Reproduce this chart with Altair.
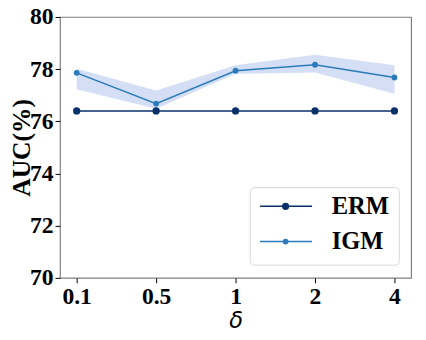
import altair as alt
import pandas as pd

deltas = ["0.1", "0.5", "1", "2", "4"]
erm = [76.40, 76.40, 76.40, 76.40, 76.40]
igm = [77.86, 76.68, 77.94, 78.17, 77.68]
igm_lo = [77.23, 76.48, 77.82, 77.87, 77.06]
igm_hi = [78.02, 77.18, 78.15, 78.55, 78.15]
series = ["ERM", "IGM"]
colors = ["#08306b", "#2b7bba"]
dot_sizes = [55, 35]

rows = []
for d, v in zip(deltas, erm):
    rows.append({"delta": d, "auc": v, "method": "ERM"})
for d, v in zip(deltas, igm):
    rows.append({"delta": d, "auc": v, "method": "IGM"})
df = pd.DataFrame(rows)
band = pd.DataFrame({"delta": deltas, "lo": igm_lo, "hi": igm_hi})

FONT = "Liberation Serif"
xenc = alt.X("delta:O", sort=deltas,
             scale=alt.Scale(type="point", padding=0.21),
             axis=alt.Axis(title="δ", labelAngle=0, titleFont="DejaVu Sans",
                           titleFontStyle="italic", titleFontWeight="normal",
                           titleFontSize=23, titlePadding=2))
yscale = alt.Scale(domain=[70, 80], nice=False, zero=False)
yaxis = alt.Axis(title="AUC(%)", values=[70, 72, 74, 76, 78, 80], titleFontSize=26,
                 titlePadding=-5)

cscale = alt.Scale(domain=series, range=colors)
sscale = alt.Scale(domain=series, range=dot_sizes)

area = alt.Chart(band).mark_area(color="#c6d3f2", opacity=0.75).encode(
    x=xenc,
    y=alt.Y("lo:Q", scale=yscale, axis=yaxis),
    y2="hi:Q",
)
line = alt.Chart(df).mark_line(strokeWidth=1.5).encode(
    x=xenc,
    y=alt.Y("auc:Q", scale=yscale, axis=yaxis),
    color=alt.Color("method:N", scale=cscale, legend=None),
)
pts = alt.Chart(df).mark_circle(opacity=1).encode(
    x=xenc,
    y=alt.Y("auc:Q", scale=yscale),
    color=alt.Color("method:N", scale=cscale, legend=None),
    size=alt.Size("method:N", scale=sscale, legend=None),
)

# manual legend (pixel positions inside plot area)
leg = pd.DataFrame({"method": series, "ly": [193, 229]})
leg_box = alt.Chart(pd.DataFrame({"a": [0]})).mark_rect(
    fill="white", stroke="#d8d8d8", strokeWidth=1, cornerRadius=4).encode(
    x=alt.value(194), x2=alt.value(346), y=alt.value(174), y2=alt.value(253))
leg_line = alt.Chart(leg).mark_rule(strokeWidth=1.5).encode(
    x=alt.value(204), x2=alt.value(257),
    y=alt.Y("ly:Q", scale=None),
    color=alt.Color("method:N", scale=cscale, legend=None),
)
leg_dot = alt.Chart(leg).mark_circle(opacity=1).encode(
    x=alt.value(230),
    y=alt.Y("ly:Q", scale=None),
    color=alt.Color("method:N", scale=cscale, legend=None),
    size=alt.Size("method:N", scale=sscale, legend=None),
)
leg_text = alt.Chart(leg).mark_text(
    align="left", baseline="middle", font=FONT, fontWeight="bold",
    fontSize=25, color="black").encode(
    x=alt.value(277),
    y=alt.Y("ly:Q", scale=None),
    text="method:N",
)

chart = alt.layer(area, line, pts, leg_box, leg_line, leg_dot, leg_text).resolve_scale(
    y="shared").properties(
    width=358, height=266,
    autosize=alt.AutoSizeParams(type="none"),
    padding={"left": 53, "top": 6, "right": 7, "bottom": 52},
).configure_view(stroke="#808080", strokeWidth=1.2).configure_axis(
    grid=False, domain=False, tickColor="black", tickSize=5, tickWidth=1,
    labelFont=FONT, labelFontWeight="bold", labelFontSize=24, labelColor="black",
    titleFont=FONT, titleFontWeight="bold", titleColor="black", labelPadding=2,
)

chart.save("out.html", embed_options={"renderer": "svg", "actions": False})
